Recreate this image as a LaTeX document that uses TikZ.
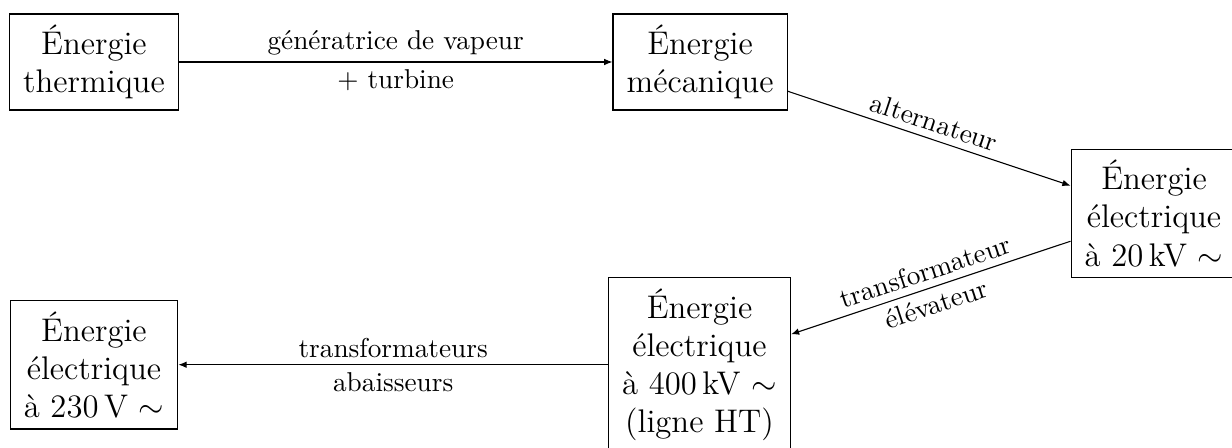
\documentclass[tikz,border=0pt]{standalone}
\usepackage{tikz}
\usetikzlibrary{arrows.meta}
\tikzset{
  energy/.style={rectangle,draw,font=\large,align=center,inner xsep=5pt,inner ysep=4pt},
  elabel/.style={font=\normalsize,inner sep=2.5pt},
  edge/.style={-{Latex[length=3pt,width=2.4pt]}},
}
\begin{document}
\begin{tikzpicture}[x=1cm,y=1cm]
  \useasboundingbox (-1.211,-4.974) rectangle (14.665,0.799);
  % ---- energy forms ----
  \node[energy] (therm) at (0,0) {Énergie\\thermique};
  \node[energy] (meca) at (7.81,0) {Énergie\\mécanique};
  \node[energy] (elec20) at (13.66,-1.952) {Énergie\\électrique\\à 20\,kV $\sim$};
  \node[energy] (elec400) at (7.803,-3.901) {Énergie\\électrique\\à 400\,kV $\sim$\\(ligne HT)};
  \node[energy] (elec230) at (0,-3.901) {Énergie\\électrique\\à 230\,V $\sim$};
  % ---- conversions ----
  \draw[edge] (therm) -- node[elabel,above]{génératrice de vapeur} node[elabel,below]{+ turbine} (meca);
  \draw[edge] (meca) -- node[elabel,above,sloped]{alternateur} (elec20);
  \draw[edge] (elec20) -- node[elabel,above,sloped]{transformateur} node[elabel,below,sloped]{élévateur} (elec400);
  \draw[edge] (elec400) -- node[elabel,above]{transformateurs} node[elabel,below]{abaisseurs} (elec230);
\end{tikzpicture}
\end{document}
